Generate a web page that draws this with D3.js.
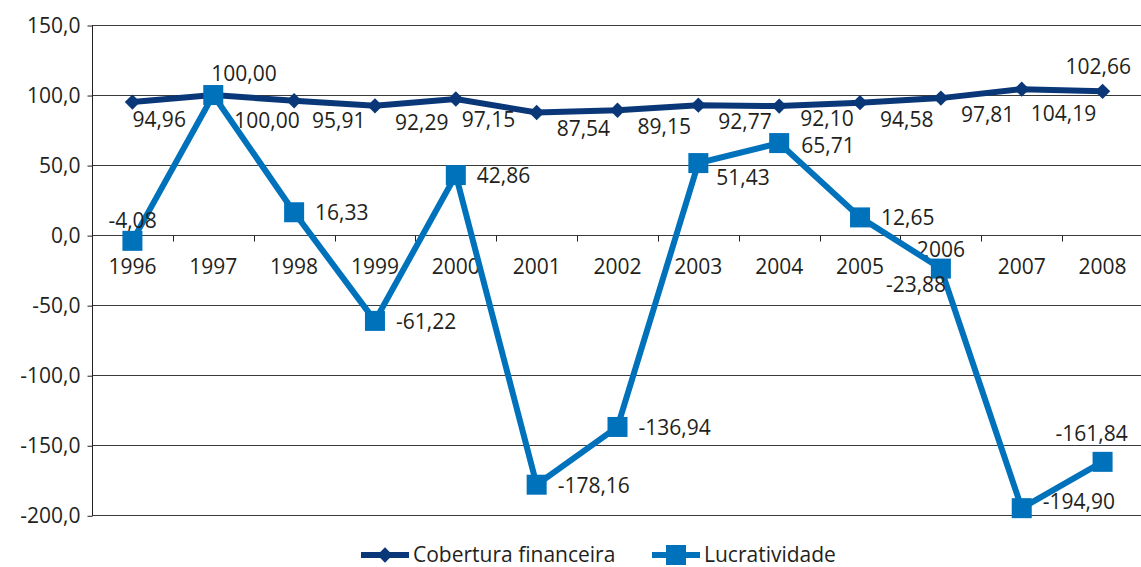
<!DOCTYPE html>
<html>
<head>
<meta charset="utf-8">
<script src="https://cdn.jsdelivr.net/npm/d3@7"></script>
<style>
  body { margin: 0; background: #fff; }
  text { font-family: "Open Sans", sans-serif; fill: #231f20; }
</style>
</head>
<body>
<div id="chart"></div>
<script>
var years = ["1996", "1997", "1998", "1999", "2000", "2001", "2002", "2003", "2004", "2005", "2006", "2007", "2008"];
var cobertura = [94.96, 100.00, 95.91, 92.29, 97.15, 87.54, 89.15, 92.77, 92.10, 94.58, 97.81, 104.19, 102.66];
var lucratividade = [-4.08, 100.00, 16.33, -61.22, 42.86, -178.16, -136.94, 51.43, 65.71, 12.65, -23.88, -194.90, -161.84];
var yTicks = [150, 100, 50, 0, -50, -100, -150, -200];
var seriesNames = ["Cobertura financeira", "Lucratividade"];

var svgWidth = 1141;
var svgHeight = 567;
var fontSize = "21px";

var fmt = function(v, d) { return v.toFixed(d).replace(".", ","); };

var svg = d3.select("#chart")
  .append("svg")
  .attr("width", svgWidth)
  .attr("height", svgHeight);

var x = d3.scaleBand()
  .domain(years)
  .range([92, 1143]);

var y = d3.scaleLinear()
  .domain([-200, 150])
  .range([515.3, 25]);

var cx = function(yr) { return x(yr) + x.bandwidth() / 2; };

// gridlines
svg.append("g")
  .selectAll("line")
  .data(yTicks)
  .enter()
  .append("line")
  .attr("x1", 92)
  .attr("x2", 1143)
  .attr("y1", d => Math.round(y(d)) + 0.5)
  .attr("y2", d => Math.round(y(d)) + 0.5)
  .attr("stroke", "#3a3a3a")
  .attr("stroke-width", 1);

// y axis
var leftAxis = d3.axisLeft(y)
  .tickValues(yTicks)
  .tickSize(5)
  .tickPadding(7)
  .tickFormat(d => fmt(d, 1));

var yAxis = svg.append("g")
  .attr("transform", "translate(92.5, 0.5)")
  .call(leftAxis);
yAxis.selectAll("text").style("font-size", fontSize);
yAxis.selectAll("line, path").attr("stroke", "#231f20");
yAxis.select(".domain").attr("d", "M0," + (Math.round(y(150))) + "V" + Math.round(y(-200)));

// x axis on the zero line
var bottomAxis = d3.axisBottom(x)
  .tickSize(0)
  .tickPadding(24);

var xAxis = svg.append("g")
  .attr("transform", "translate(0," + (Math.round(y(0)) + 0.5) + ")")
  .call(bottomAxis);
xAxis.select(".domain").remove();
xAxis.selectAll("text")
  .style("font-size", fontSize)
  .attr("dy", d => d === "2006" ? "-0.1em" : "0.71em");

xAxis.selectAll(".xtick")
  .data(years.slice(1))
  .enter()
  .append("line")
  .attr("class", "xtick")
  .attr("x1", d => Math.round(x(d)) + 0.5)
  .attr("x2", d => Math.round(x(d)) + 0.5)
  .attr("y1", 0)
  .attr("y2", 6)
  .attr("stroke", "#231f20");

var navy = "#0a3778";
var blue = "#0072bb";

var lineGen = d3.line()
  .x((d, i) => cx(years[i]))
  .y(d => y(d));

// Lucratividade
svg.append("path")
  .datum(lucratividade)
  .attr("d", lineGen)
  .attr("fill", "none")
  .attr("stroke", blue)
  .attr("stroke-width", 6);

// Cobertura
svg.append("path")
  .datum(cobertura)
  .attr("d", lineGen)
  .attr("fill", "none")
  .attr("stroke", navy)
  .attr("stroke-width", 6);

svg.append("g")
  .selectAll("path")
  .data(cobertura)
  .enter()
  .append("path")
  .attr("d", d3.symbol().type(d3.symbolDiamond2).size(150))
  .attr("transform", (d, i) => `translate(${cx(years[i])}, ${y(d)})`)
  .attr("fill", navy);

svg.append("g")
  .selectAll("rect")
  .data(lucratividade)
  .enter()
  .append("rect")
  .attr("x", (d, i) => cx(years[i]) - 10)
  .attr("y", d => y(d) - 10)
  .attr("width", 20)
  .attr("height", 20)
  .attr("fill", blue);

// data labels -- default placement plus a few nudges like the original
var cobNudge = {
  "1996": [0, 25], "1997": [21, 33], "1998": [18, 27], "2000": [6, 28],
  "2004": [21, 20], "2007": [9, 32], "2008": [-37, -17]
};
var lucNudge = {
  "1996": [-24, -13], "1997": [-2, -14], "2003": [18, 22],
  "2004": [22, 10], "2006": [-55, 23], "2007": [21, 1], "2008": [-47, -21]
};

svg.append("g")
  .selectAll("text")
  .data(cobertura)
  .enter()
  .append("text")
  .attr("x", (d, i) => cx(years[i]) + (cobNudge[years[i]] || [20, 24])[0])
  .attr("y", (d, i) => y(d) + (cobNudge[years[i]] || [20, 24])[1])
  .style("font-size", fontSize)
  .text(d => fmt(d, 2));

svg.append("g")
  .selectAll("text")
  .data(lucratividade)
  .enter()
  .append("text")
  .attr("x", (d, i) => cx(years[i]) + (lucNudge[years[i]] || [21, 8])[0])
  .attr("y", (d, i) => y(d) + (lucNudge[years[i]] || [21, 8])[1])
  .style("font-size", fontSize)
  .text(d => fmt(d, 2));

// legend
var legend = svg.append("g").attr("transform", "translate(0, 555)");
var legendX = [361, 652];
var legendColors = [navy, blue];

seriesNames.forEach(function(name, i) {
  var g = legend.append("g").attr("transform", `translate(${legendX[i]}, 0)`);
  g.append("line")
    .attr("x1", 0).attr("x2", 48)
    .attr("stroke", legendColors[i])
    .attr("stroke-width", 6);
  if (i === 0) {
    g.append("path")
      .attr("d", d3.symbol().type(d3.symbolDiamond2).size(150))
      .attr("transform", "translate(24,0)")
      .attr("fill", navy);
  } else {
    g.append("rect")
      .attr("x", 14).attr("y", -10)
      .attr("width", 20).attr("height", 20)
      .attr("fill", blue);
  }
  g.append("text")
    .attr("x", 52)
    .attr("y", 7)
    .style("font-size", fontSize)
    .text(name);
});
</script>
</body>
</html>
